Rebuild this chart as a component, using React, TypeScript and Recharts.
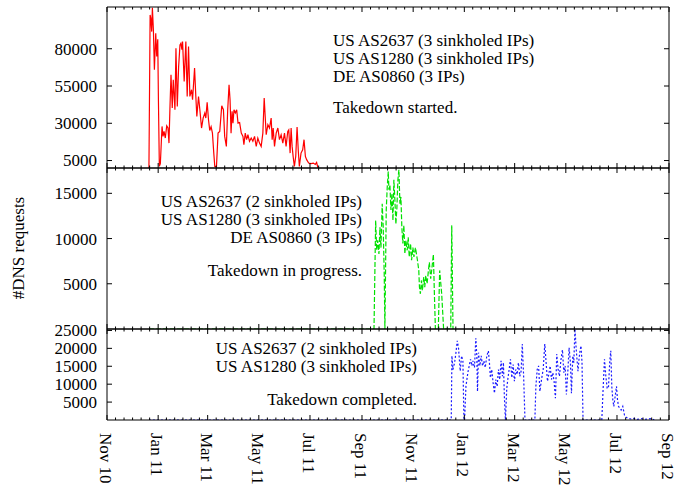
import React from 'react';
import { LineChart, Line, XAxis, YAxis } from 'recharts';

const FONT = '"Liberation Serif", "Times New Roman", serif';

// x values are days counted from 1 Nov 2010
const MONTH_DAYS = [0, 61, 120, 181, 242, 304, 365, 426, 486, 547, 608, 670];
const MONTH_LABELS = [
  'Nov 10', 'Jan 11', 'Mar 11', 'May 11', 'Jul 11', 'Sep 11',
  'Nov 11', 'Jan 12', 'Mar 12', 'May 12', 'Jul 12', 'Sep 12',
];

const TOP_TICKS = [5000, 30000, 55000, 80000];
const MID_TICKS = [5000, 10000, 15000];
const BOT_TICKS = [5000, 10000, 15000, 20000, 25000];

// [day, #DNS requests]
const RED: [number, number][] = [
  [50, 0], [51.4, 102700], [52.2, 100500], [53.3, 91500], [54.1, 107500], [55.3, 92700],
  [56.5, 65900], [58.1, 90400], [59.3, 74800], [60.5, 86400], [61.3, 45800], [62.4, 1100],
  [63.6, 2900], [65.6, 27900], [66.8, 21200], [68, 24500], [69.5, 20100], [71.2, 28300],
  [72.7, 26800], [73.9, 16700], [75.1, 41300], [76.3, 62500], [77.8, 40200], [79, 59200],
  [81, 39100], [82.2, 80400], [83.8, 41300], [85.4, 68100], [87, 82600], [88.1, 83700],
  [89.3, 79300], [90.1, 84800], [92, 58000], [94, 84800], [95.6, 48000], [97.2, 81500],
  [98.8, 48000], [100.8, 52500], [102, 45800], [104.4, 67000], [105.9, 48000], [107.1, 34600],
  [109.1, 48000], [110.7, 39100], [112.7, 26800], [114.6, 33500], [116.6, 36900], [117.8, 33500],
  [119.4, 44000], [121, 32400], [122.5, 25200], [124.1, 27700], [125.7, 23400], [127.3, 10000],
  [128.5, 1100], [130.5, 1000], [132.4, 23400], [134.4, 24500], [136.8, 41700], [138.8, 39100],
  [140.3, 21200], [142.3, 14500], [143.9, 39100], [145.5, 55800], [146.7, 45800], [147.9, 23400],
  [149.1, 38000], [150.2, 30100], [151.4, 39100], [153, 36900], [154.6, 39100], [156.2, 30100],
  [158.1, 30500], [160.1, 23400], [162.1, 21200], [163.2, 15600], [164.8, 23400], [166.4, 19000],
  [168, 22300], [169.9, 17900], [171.9, 20100], [173.9, 17900], [175.9, 21200], [177.9, 14500],
  [179.8, 20100], [181.8, 16700], [183.8, 14500], [185.8, 23400], [187.4, 46900], [188.6, 34600],
  [189.8, 22300], [191.8, 29000], [193.7, 26800], [195.7, 33500], [196.9, 19000], [198.1, 26800],
  [199.7, 14500], [201.7, 23400], [203.7, 26800], [205.6, 19000], [207.6, 22300], [209.6, 16700],
  [211.6, 23400], [213.5, 14500], [215.5, 24500], [216.7, 25600], [218.3, 10000], [219.5, 26800],
  [220.7, 14500], [221.9, 7800], [223.4, 1100], [225, 7800], [226.6, 27500], [228.1, 11100],
  [229.3, 1100], [231.3, 10000], [233.3, 12200], [234.9, 19000], [236.5, 7800], [238, 5600],
  [240.4, 3300], [243.2, 2900], [246, 3300], [248.3, 2400], [249.9, 3700], [251.5, 0],
];

const GREEN: [number, number][] = [
  [50, 0], [318.3, 0], [320.3, 12000], [321.5, 8700], [322.7, 9800], [324.2, 8300],
  [325.4, 11250], [326.6, 9000], [328.1, 13850], [329.3, 11250], [330.5, 6000], [331.3, 0],
  [332.9, 13150], [334.1, 15700], [335.3, 17400], [336.1, 15400], [337.3, 15900], [338.5, 13150],
  [339.7, 15000], [340.9, 12000], [342, 16500], [343.2, 14300], [344.4, 11600], [345.6, 13350],
  [346.8, 16500], [348, 17600], [349.2, 13850], [350.4, 14600], [351.5, 11250], [352.7, 9450],
  [353.9, 11450], [355.1, 8300], [356.3, 9800], [357.9, 8700], [359.1, 10150], [360.3, 7970],
  [361.9, 9450], [363.1, 7600], [364.7, 9000], [365.9, 7970], [367.7, 9000], [368.9, 8300],
  [370.1, 7600], [371.7, 6480], [372.5, 4630], [373.6, 3890], [374.8, 5370], [376, 4260],
  [377.6, 5740], [378.8, 4630], [380, 5900], [381.6, 5000], [383.2, 6480], [384.3, 7370],
  [385.9, 5550], [387.5, 6850], [389.1, 8260], [390.3, 3890], [391.5, 0], [395, 0],
  [396.6, 6480], [399, 3900], [401.3, 0], [409.8, 0], [411, 11480], [412.5, 0],
];

const BLUE: [number, number][] = [
  [50, 0], [410.4, 0], [411.2, 17900], [412.4, 14100], [414.4, 16000], [416, 18800],
  [417.6, 22100], [419.1, 20000], [421.1, 13650], [422.7, 17900], [424.3, 16500], [425.5, 0],
  [426.3, 0], [427.9, 9400], [430.2, 13200], [431.8, 15100], [433.4, 16950], [435, 15100],
  [436.2, 16500], [438.1, 14600], [439.7, 22800], [440.9, 17900], [441.7, 8000], [442.9, 18800],
  [444.5, 15100], [446.1, 17900], [447.7, 15100], [449.3, 16500], [450.9, 14600], [452.8, 17900],
  [454.7, 19300], [455.9, 16000], [457.1, 11800], [458.7, 14100], [460.3, 10400], [461.9, 7500],
  [463.5, 11300], [465.1, 9400], [466.7, 14100], [468.2, 11300], [469.8, 16500], [471.4, 12200],
  [472.6, 16000], [473.8, 6100], [475, 0], [476.6, 8900], [477.8, 11300], [479.4, 14100],
  [481, 16950], [482.6, 11800], [484.2, 15500], [485.7, 10800], [487.3, 14100], [488.9, 12700],
  [490.5, 16000], [492.1, 12200], [493.7, 13650], [495.1, 21200], [496.7, 12200], [498.3, 0],
  [510.1, 0], [511.3, 9400], [512.9, 14100], [514.5, 15100], [516.1, 8000], [518, 11300],
  [520, 14100], [521.9, 21200], [523.5, 16000], [525.1, 10800], [526.7, 12700], [528.3, 15100],
  [529.9, 11300], [531.5, 13200], [533, 10800], [534.6, 6100], [536.2, 18400], [537.8, 14100],
  [539.4, 12200], [541, 16500], [543, 19600], [544.6, 13200], [546.2, 15100], [547.7, 7100],
  [549.3, 13200], [550.9, 20200], [552.5, 16000], [553.7, 7500], [555.3, 17900], [556.5, 16000],
  [557.9, 25400], [559.1, 20700], [560.3, 16950], [561.5, 13650], [562.7, 16950], [563.9, 19300],
  [565.1, 20700], [566.3, 16000], [567.5, 0], [589.9, 0], [591.5, 8900], [593.1, 16950],
  [594.7, 12200], [596.3, 8900], [597.8, 8900], [599.4, 16500], [600.6, 19300], [601.8, 9400],
  [603, 5650], [604.2, 3800], [605.8, 6600], [607.4, 9400], [608.6, 5650], [609.8, 3800],
  [611.3, 3300], [612.9, 2800], [614.9, 3800], [616.9, 1400], [618.9, 750], [620.9, 470],
  [624.9, 280], [628.8, 470], [632.8, 200], [636.7, 380], [640.7, 200], [644.6, 280],
  [648.6, 380], [652.5, 0],
];

// major ticks every two months, 5 minor ticks in between
const X_TICKS: number[] = [];
MONTH_DAYS.forEach((d, i) => {
  X_TICKS.push(d);
  const next = MONTH_DAYS[i + 1];
  if (next !== undefined) {
    for (let k = 1; k < 6; k++) X_TICKS.push(d + ((next - d) * k) / 6);
  }
});

const toRows = (pts: [number, number][]) => pts.map(([day, v]) => ({ day, v }));

const xTick = (side: 'top' | 'bottom', labels: boolean) => (props: any) => {
  const { x, y, payload } = props;
  const idx = MONTH_DAYS.indexOf(payload.value);
  const len = idx >= 0 ? 5 : 2.5;
  const dir = side === 'bottom' ? -1 : 1;
  const ly = y + 13;
  return (
    <g>
      <line x1={x} y1={y} x2={x} y2={y + dir * len} stroke="#000" />
      {labels && idx >= 0 && (
        <text x={x} y={ly} dy="0.42em" transform={`rotate(90, ${x}, ${ly})`}
          textAnchor="start" fontFamily={FONT} fontSize={17} fill="#000">
          {MONTH_LABELS[idx]}
        </text>
      )}
    </g>
  );
};

const yTick = (side: 'left' | 'right') => (props: any) => {
  const { x, y, payload } = props;
  const dir = side === 'left' ? 1 : -1;
  return (
    <g>
      <line x1={x} y1={y} x2={x + dir * 5} y2={y} stroke="#000" />
      {side === 'left' && (
        <text x={x - 10} y={y} dy="0.35em" textAnchor="end" fontFamily={FONT} fontSize={17} fill="#000">
          {payload.value}
        </text>
      )}
    </g>
  );
};

type PanelProps = {
  top: number;
  height: number;
  bottomAxis: number;
  points: [number, number][];
  yMax: number;
  yTicks: number[];
  color: string;
  dash?: string;
  showDates?: boolean;
};

function Panel({ top, height, bottomAxis, points, yMax, yTicks, color, dash, showDates }: PanelProps) {
  const axis = { stroke: '#000', strokeWidth: 1 };
  return (
    <div style={{ position: 'absolute', left: 0, top }}>
      <LineChart
        width={677}
        height={height}
        data={toRows(points)}
        margin={{ top: 6, right: 7, bottom: showDates ? 0 : 6, left: 0 }}
      >
        <XAxis dataKey="day" type="number" domain={[0, 670]} ticks={X_TICKS} interval={0}
          allowDataOverflow height={bottomAxis} tickSize={0} tickMargin={0}
          axisLine={axis} tickLine={false} tick={xTick('bottom', !!showDates)} />
        <XAxis xAxisId="top" orientation="top" dataKey="day" type="number" domain={[0, 670]}
          ticks={X_TICKS} interval={0} allowDataOverflow height={1} tickSize={0} tickMargin={0}
          axisLine={axis} tickLine={false} tick={xTick('top', false)} />
        <YAxis type="number" domain={[0, yMax]} ticks={yTicks} interval={0} allowDataOverflow
          width={107} tickSize={0} tickMargin={0} axisLine={axis} tickLine={false} tick={yTick('left')} />
        <YAxis yAxisId="r" orientation="right" type="number" domain={[0, yMax]} ticks={yTicks}
          interval={0} allowDataOverflow width={1} tickSize={0} tickMargin={0} axisLine={axis}
          tickLine={false} tick={yTick('right')} />
        <Line dataKey="v" type="linear" stroke={color} strokeWidth={1.2} strokeDasharray={dash}
          dot={false} activeDot={false} isAnimationActive={false} />
      </LineChart>
    </div>
  );
}

const textStyle = { fontFamily: FONT, fontSize: 17, fill: '#000' };

export default function App() {
  return (
    <div style={{ position: 'absolute', left: 0, top: 0, width: 677, height: 485, background: '#fff' }}>
      <Panel top={0} height={175} bottomAxis={1} points={RED} yMax={108000} yTicks={TOP_TICKS} color="#ff0000" />
      <Panel top={161} height={175} bottomAxis={1} points={GREEN} yMax={17800} yTicks={MID_TICKS}
        color="#00e000" dash="5 2" />
      <Panel top={322} height={163} bottomAxis={65} points={BLUE} yMax={25400} yTicks={BOT_TICKS}
        color="#1a1aff" dash="2 2" showDates />
      <svg width={677} height={485} style={{ position: 'absolute', left: 0, top: 0, pointerEvents: 'none' }}>
        <text {...textStyle} x={18} y={248} dy="0.35em" textAnchor="middle" transform="rotate(-90, 18, 248)">
          #DNS requests
        </text>
        <g {...textStyle} textAnchor="start">
          <text x={333} y={45.5}>US AS2637 (3 sinkholed IPs)</text>
          <text x={333} y={63.5}>US AS1280 (3 sinkholed IPs)</text>
          <text x={333} y={81.5}>DE AS0860 (3 IPs)</text>
          <text x={333} y={112.5}>Takedown started.</text>
        </g>
        <g {...textStyle} textAnchor="end">
          <text x={362} y={206.5}>US AS2637 (2 sinkholed IPs)</text>
          <text x={362} y={224.5}>US AS1280 (3 sinkholed IPs)</text>
          <text x={362} y={242.5}>DE AS0860 (3 IPs)</text>
          <text x={362} y={275.5}>Takedown in progress.</text>
        </g>
        <g {...textStyle} textAnchor="end">
          <text x={417} y={353.5}>US AS2637 (2 sinkholed IPs)</text>
          <text x={417} y={371.5}>US AS1280 (3 sinkholed IPs)</text>
          <text x={417} y={404.5}>Takedown completed.</text>
        </g>
      </svg>
    </div>
  );
}
